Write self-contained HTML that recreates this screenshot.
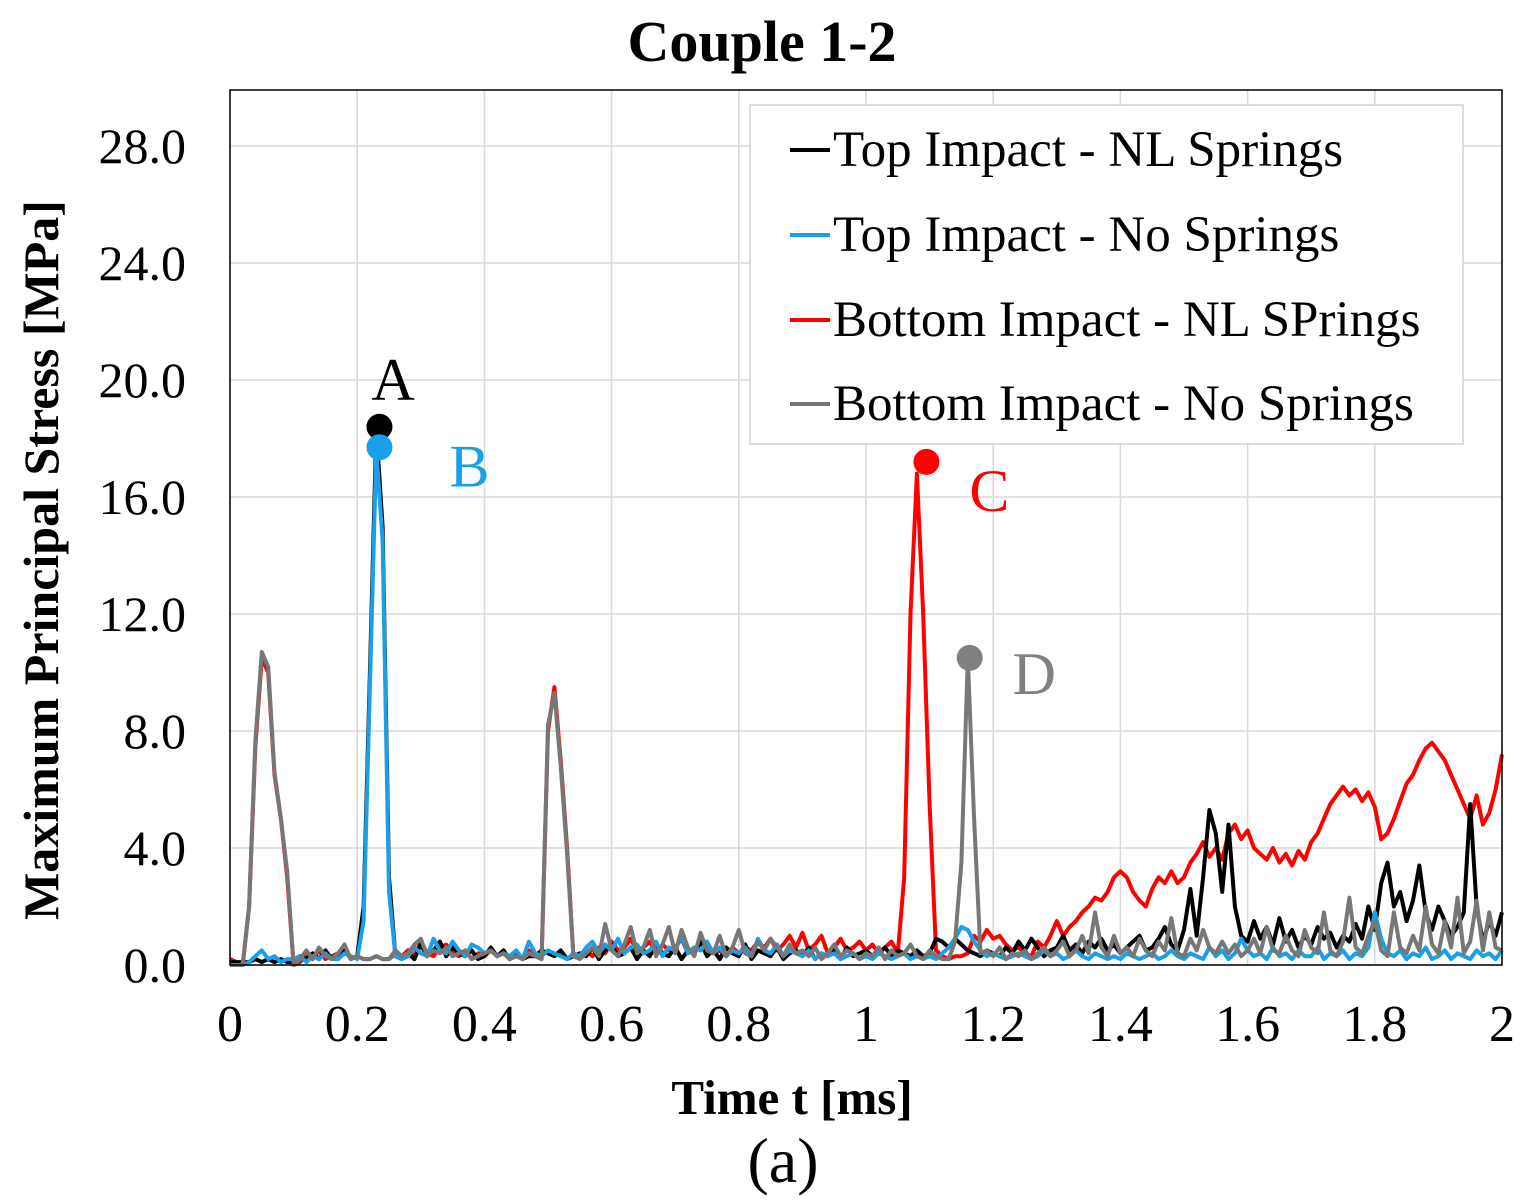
<!DOCTYPE html>
<html><head><meta charset="utf-8"><title>Couple 1-2</title>
<style>
html,body{margin:0;padding:0;background:#fff;}
svg{display:block;font-family:"Liberation Serif",serif;}
</style></head>
<body>
<svg id="chart" width="1526" height="1204" viewBox="0 0 1526 1204" xmlns="http://www.w3.org/2000/svg">
<rect x="0" y="0" width="1526" height="1204" fill="#fff"/>
<text x="762" y="61" text-anchor="middle" font-size="58" font-weight="bold">Couple 1-2</text>
<g id="grid"></g>
<g id="ticks"></g>
<g id="series"></g>
<rect x="230" y="90" width="1272" height="875" fill="none" stroke="#000" stroke-width="1.5"/>
<g id="points"></g>
<text transform="translate(58,560) rotate(-90)" text-anchor="middle" font-size="50" font-weight="bold">Maximum Principal Stress [MPa]</text>
<text x="792" y="1114" text-anchor="middle" font-size="49" font-weight="bold">Time t [ms]</text>
<text x="783" y="1182" text-anchor="middle" font-size="64">(a)</text>
<g>
<rect x="750" y="105" width="713" height="339" fill="#fff" stroke="#d0d0d0" stroke-width="1.5"/>
<g><line x1="790" y1="150" x2="830" y2="150" stroke="#000" stroke-width="4"/><text x="833" y="166" font-size="51">Top Impact - NL Springs</text></g>
<g><line x1="790" y1="235" x2="830" y2="235" stroke="#1aa0e8" stroke-width="4"/><text x="833" y="251" font-size="51">Top Impact - No Springs</text></g>
<g><line x1="790" y1="320" x2="830" y2="320" stroke="#ff0000" stroke-width="4"/><text x="833" y="336" font-size="51">Bottom Impact - NL SPrings</text></g>
<g><line x1="790" y1="404" x2="830" y2="404" stroke="#777" stroke-width="4"/><text x="833" y="420" font-size="51">Bottom Impact - No Springs</text></g>
</g>
</svg>
<script>
const xTicks=[0,0.2,0.4,0.6,0.8,1,1.2,1.4,1.6,1.8,2];
const xTickLabels=["0","0.2","0.4","0.6","0.8","1","1.2","1.4","1.6","1.8","2"];
const yTicks=[0,4,8,12,16,20,24,28];
const yTickLabels=["0.0","4.0","8.0","12.0","16.0","20.0","24.0","28.0"];
const timeStep=0.01;
const topNL=[0.1,0.1,0.1,0.1,0.2,0.1,0.2,0.1,0.2,0.1,
0.1,0.3,0.2,0.4,0.2,0.5,0.2,0.3,0.6,0.2,
0.3,2.0,10.0,18.3,15.0,3.0,0.3,0.2,0.4,0.2,
0.7,0.3,0.5,0.8,0.3,0.6,0.4,0.3,0.5,0.2,
0.3,0.6,0.3,0.5,0.2,0.4,0.2,0.3,0.3,0.5,
0.4,0.3,0.5,0.2,0.3,0.4,0.3,0.6,0.2,0.5,
0.7,0.3,0.4,0.6,0.2,0.5,0.3,0.7,0.4,0.3,
0.6,0.2,0.5,0.4,0.8,0.3,0.5,0.2,0.6,0.4,
0.3,0.7,0.2,0.5,0.4,0.3,0.6,0.2,0.4,0.5,
0.3,0.6,0.2,0.4,0.3,0.5,0.2,0.6,0.3,0.4,
0.5,0.3,0.4,0.6,0.3,0.5,0.4,0.3,0.5,0.3,
0.4,0.9,0.8,0.6,0.9,0.7,0.5,0.4,0.3,0.5,
0.4,0.3,0.6,0.4,0.8,0.5,0.9,0.6,0.3,0.5,
0.6,1.0,0.5,0.7,0.4,0.8,0.6,0.9,0.5,0.7,
0.4,0.6,0.8,1.0,0.5,0.6,0.9,1.3,0.7,0.5,
1.2,2.6,1.0,3.0,5.3,4.5,2.5,4.8,2.0,1.0,
0.8,1.5,0.9,1.3,0.7,1.6,0.8,1.2,0.6,1.0,
0.7,1.3,0.9,1.1,0.6,1.0,0.8,1.4,0.9,2.0,
1.2,2.8,3.5,2.0,2.5,1.5,2.2,3.4,1.8,1.2,
2.0,1.5,1.0,1.3,1.8,5.5,2.0,0.8,1.5,1.0,
1.8];
const topNo=[0,0,0,0.1,0.3,0.5,0.2,0.3,0.1,0.2,
0.2,0.3,0.1,0.3,0.2,0.4,0.2,0.2,0.4,0.3,
0.2,1.5,9.5,17.6,14.5,2.5,0.3,0.2,0.3,0.6,
0.4,0.3,0.9,0.5,0.4,0.8,0.5,0.3,0.7,0.6,
0.4,0.5,0.3,0.4,0.3,0.5,0.2,0.8,0.4,0.3,
0.5,0.4,0.3,0.2,0.4,0.3,0.6,0.8,0.4,0.7,
0.5,0.9,0.4,0.6,0.7,0.4,0.5,0.8,0.3,0.6,
0.5,1.0,0.4,0.6,0.5,0.8,0.4,0.6,0.3,0.5,
0.4,0.6,0.3,0.9,0.5,0.4,0.7,0.3,0.5,0.4,
0.3,0.5,0.2,0.4,0.3,0.4,0.2,0.3,0.4,0.2,
0.3,0.2,0.4,0.3,0.2,0.3,0.4,0.2,0.3,0.2,
0.3,0.2,0.4,0.6,0.9,1.3,1.2,0.8,0.5,0.3,
0.4,0.3,0.2,0.3,0.4,0.3,0.2,0.3,0.5,0.3,
0.4,0.2,0.3,0.5,0.3,0.2,0.4,0.3,0.2,0.3,
0.2,0.4,0.3,0.2,0.3,0.4,0.2,0.3,0.5,0.3,
0.2,0.4,0.3,0.2,0.6,0.3,0.5,0.2,0.4,0.9,
0.5,0.3,0.4,0.2,0.6,0.3,0.4,0.2,0.5,0.3,
0.3,0.6,0.2,0.4,0.3,0.5,0.2,0.4,0.3,0.6,
1.8,0.9,0.4,0.3,0.5,0.2,0.4,0.3,0.6,0.2,
0.3,0.5,0.2,0.4,0.3,0.2,0.5,0.3,0.4,0.2,
0.5];
const bottomNL=[0.2,0.1,0.0,2.0,7.5,10.5,10.0,6.5,5.0,3.0,
0.0,0.1,0.3,0.2,0.5,0.2,0.3,0.4,0.6,0.2,
0.3,0.2,0.2,0.3,0.2,0.2,0.4,0.3,0.5,0.3,
0.8,0.4,0.3,0.6,0.7,0.4,0.3,0.5,0.2,0.4,
0.3,0.5,0.3,0.4,0.2,0.3,0.2,0.5,0.3,0.2,
8.0,9.5,7.0,4.0,0.3,0.3,0.5,0.3,0.6,0.4,
0.8,0.5,0.6,0.9,0.5,0.6,0.8,0.4,0.7,0.5,
0.6,0.9,0.4,0.6,0.5,0.7,0.4,0.5,0.3,0.6,
0.4,0.6,0.5,0.8,0.6,0.9,0.5,0.7,1.0,0.6,
1.1,0.5,0.7,1.0,0.4,0.6,0.9,0.5,0.6,0.8,
0.5,0.7,0.4,0.6,0.8,0.4,3.0,12.0,16.8,12.0,
5.5,0.5,0.3,0.2,0.3,0.3,0.4,1.0,0.8,1.2,
0.9,1.0,0.7,0.5,0.6,0.4,0.3,0.8,0.6,1.0,
1.5,1.0,1.3,1.5,1.8,2.0,2.3,2.2,2.5,3.0,
3.2,3.0,2.5,2.2,2.0,2.6,3.0,2.8,3.2,2.8,
3.0,3.5,3.8,4.2,3.7,4.0,3.6,4.5,4.8,4.3,
4.6,4.0,3.8,3.6,4.0,3.5,3.8,3.4,3.9,3.6,
4.2,4.5,5.0,5.5,5.8,6.1,5.8,6.0,5.6,5.9,
5.4,4.3,4.5,5.0,5.6,6.2,6.5,7.0,7.4,7.6,
7.3,7.0,6.5,6.0,5.5,5.0,5.8,4.8,5.2,6.0,
7.2];
const bottomNo=[0.0,0.0,0.0,2.0,7.7,10.7,10.2,6.6,5.0,3.2,
0.0,0.2,0.5,0.2,0.6,0.3,0.2,0.4,0.7,0.2,
0.3,0.2,0.2,0.3,0.2,0.2,0.5,0.3,0.4,0.7,
0.9,0.3,0.5,0.4,0.6,0.3,0.4,0.5,0.2,0.3,
0.4,0.5,0.3,0.4,0.2,0.3,0.2,0.4,0.3,0.2,
8.2,9.3,6.8,3.8,0.3,0.2,0.4,0.6,0.3,1.4,
0.5,0.3,0.7,1.3,0.4,0.6,1.2,0.3,0.7,1.3,
0.4,1.2,0.6,0.3,1.1,0.5,0.4,1.0,0.3,0.6,
1.2,0.4,0.3,0.8,0.5,0.9,0.6,0.3,0.7,0.4,
0.5,0.3,0.6,0.2,0.4,0.7,0.3,0.5,0.4,0.2,
0.4,0.3,0.6,0.2,0.5,0.3,0.4,0.7,0.3,0.2,
0.5,0.3,0.2,0.2,0.8,3.5,10.5,5.0,0.4,0.5,
0.3,0.6,0.2,0.4,0.3,0.5,0.2,0.4,0.6,0.3,
0.5,0.8,0.3,0.5,1.0,0.4,1.8,0.6,0.3,1.0,
0.4,0.6,0.3,0.9,0.5,0.3,0.8,0.5,1.6,0.4,
0.3,0.9,0.5,1.2,0.6,0.4,0.8,0.4,0.7,0.3,
0.5,0.9,0.4,1.3,0.5,0.4,1.0,0.5,0.3,1.2,
0.6,0.4,1.8,0.5,0.3,0.8,2.3,0.6,0.4,1.0,
1.5,0.5,0.3,1.8,0.6,0.4,1.0,0.5,2.0,0.7,
0.4,1.5,0.6,2.3,0.4,0.8,2.2,0.5,1.8,0.6,
0.5];
const peakLabels=["A","B","C","D"];
const peakTimes=[0.235,0.235,1.095,1.163];
const peakValues=[18.4,17.7,17.2,10.5];

const NS="http://www.w3.org/2000/svg";
const X0=230,X1=1502,Y0=965,PXU=29.25;
function xs(t){return X0+(t/2)*(X1-X0);}
function ys(v){return Y0-v*PXU;}
function mk(tag,attrs,parent){const e=document.createElementNS(NS,tag);for(const k in attrs)e.setAttribute(k,attrs[k]);parent.appendChild(e);return e;}
const grid=document.getElementById('grid'),ticks=document.getElementById('ticks');
xTicks.forEach((t,i)=>{
  const l=mk('line',{x1:xs(t),x2:xs(t),y1:90,y2:Y0,stroke:'#d9d9d9','stroke-width':1.5},grid);
  
  
  const tx=mk('text',{x:xs(t),y:1041,'text-anchor':'middle','font-size':52},ticks);
  tx.textContent=xTickLabels[i];
  
  
});
yTicks.forEach((v,i)=>{
  const l=mk('line',{x1:X0,x2:X1,y1:ys(v),y2:ys(v),stroke:'#d9d9d9','stroke-width':1.5},grid);
  
  
  const tx=mk('text',{x:186,y:ys(v)+17,'text-anchor':'end','font-size':50},ticks);
  tx.textContent=yTickLabels[i];
  
  
});
const series=document.getElementById('series');
function drawLine(vals,color,name){
  const d=vals.map((v,i)=>(i?'L':'M')+xs(i*timeStep).toFixed(1)+' '+ys(v).toFixed(1)).join(' ');
  const p=mk('path',{d:d,fill:'none',stroke:color,'stroke-width':4,'stroke-linejoin':'round'},series);
  
  
}
drawLine(bottomNL,'#ff0000','line-bottom-nl-springs');
drawLine(topNL,'#000000','line-top-nl-springs');
drawLine(topNo,'#1aa0e8','line-top-no-springs');
drawLine(bottomNo,'#777777','line-bottom-no-springs');
const pts=document.getElementById('points');
const pColors=['#000','#1aa0e8','#ff0000','#808080'];
const lblDx=[-8,70,43,43],lblDy=[-48,18,28,15];
peakTimes.forEach((t,i)=>{
  const c=mk('circle',{cx:xs(t),cy:ys(peakValues[i]),r:13,fill:pColors[i]},pts);
  
  
  const tx=mk('text',{x:xs(t)+lblDx[i],y:ys(peakValues[i])+lblDy[i]+21,'font-size':60,fill:pColors[i]},pts);
  tx.textContent=peakLabels[i];
  
  
});
</script>
</body></html>
